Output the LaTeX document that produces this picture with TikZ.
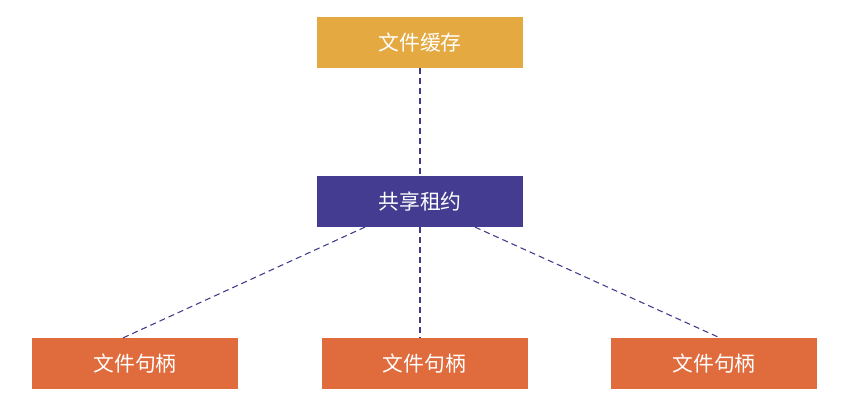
\documentclass[tikz,border=0pt]{standalone}
\usepackage{fontspec}
\newfontfamily\cjk{Noto Sans CJK SC}
\usetikzlibrary{calc}
\definecolor{cacheC}{HTML}{E4A940}
\definecolor{leaseC}{HTML}{433C90}
\definecolor{handleC}{HTML}{E06B3D}
\definecolor{lineC}{HTML}{3F3B8C}
\begin{document}
\begin{tikzpicture}[x=0.75pt,y=-0.75pt,
  box/.style={minimum width=154.5pt,minimum height=38pt,inner sep=0pt,text=white,font=\cjk\fontsize{15.6pt}{18pt}\selectfont},
  link/.style={draw=lineC,line width=0.8pt,dash pattern=on 4.5pt off 3pt}]
\useasboundingbox (0,0) rectangle (846,402);
\node[box,fill=cacheC] (cache) at (420,42.5) {文件缓存};
\node[box,fill=leaseC] (lease) at (420,201.5) {共享租约};
\node[box,fill=handleC] (h1) at (135,363.5) {文件句柄};
\node[box,fill=handleC] (h2) at (424.5,363.5) {文件句柄};
\node[box,fill=handleC] (h3) at (714,363.5) {文件句柄};
\draw[link] (cache.south) -- (lease.north);
\draw[link] ($(lease.south)+(-55,0)$) -- ($(h1.north)+(-12,0)$);
\draw[link] (lease.south) -- (lease.south |- h2.north);
\draw[link] ($(lease.south)+(55,0)$) -- ($(h3.north)+(6,0)$);
\end{tikzpicture}
\end{document}
